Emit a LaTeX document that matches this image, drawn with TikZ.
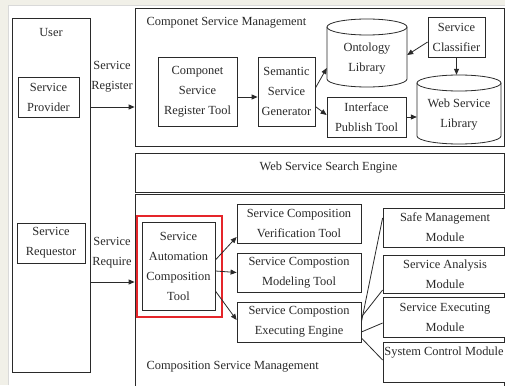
\documentclass[tikz,border=0pt]{standalone}
\usepackage{fontspec}
\setmainfont{Liberation Serif}
\usetikzlibrary{arrows.meta}
\definecolor{bgedge}{HTML}{F1F0E8}
\definecolor{lncol}{HTML}{2A2A2A}
\definecolor{redbox}{HTML}{E5252A}
\begin{document}
\begin{tikzpicture}[x=1pt,y=-1pt,
  every node/.style={font=\fontsize{12.4}{20}\selectfont, text=lncol},
  box/.style={draw=lncol, line width=0.8pt, fill=white, align=center, inner sep=0pt},
  arr/.style={draw=lncol, line width=0.8pt, -{Triangle[length=6pt,width=5pt]}},
  plainline/.style={draw=lncol, line width=0.8pt},
  cyl/.style={draw=lncol, line width=0.8pt, fill=white}
]
\useasboundingbox (0,0) rectangle (505,385);
\fill[bgedge] (0,0) rectangle (505,385);
\fill[white] (8,5) rectangle (505,385);
\draw[black!15, line width=0.6pt] (8,385) -- (8,5) -- (505,5);

% big frames
\node[box, minimum width=78pt, minimum height=354pt] (user) at (51,195) {};
\node (userlbl) at (51,33) {User};
\node[box, minimum width=61pt, minimum height=40pt] (sp) at (48.5,97) {Service\\Provider};
\node[box, minimum width=68pt, minimum height=40pt] (sr) at (51,243) {Service\\Requestor};

\node[box, minimum width=369pt, minimum height=138pt] (csm) at (319.5,77) {};
\node[anchor=west] (csmlbl) at (143,23) {Componet Service Management};
\node[box, minimum width=369pt, minimum height=39pt] (wsse) at (319.5,172.5) {};
\node[anchor=west] (wsselbl) at (256,168) {Web Service Search Engine};
\node[box, minimum width=369pt, minimum height=206pt] (cmp) at (319.5,297) {};
\node[anchor=west] (cmplbl) at (143,367) {Composition Service Management};

% user arrows
\node[align=center, inner sep=0pt] (reglbl) at (112,77) {Service\\Register};
\node[align=center, inner sep=0pt] (reqlbl) at (112,253) {Service\\Require};
\coordinate (regy) at (0,107);
\coordinate (reqy) at (0,282);
\draw[arr] (user.east |- regy) -- (csm.west |- regy);
\draw[arr] (user.east |- reqy) -- (cmp.west |- reqy);

% component service management contents
\node[box, minimum width=79pt, minimum height=69pt] (csrt) at (197.5,91.5) {Componet\\Service\\Register Tool};
\node[box, minimum width=57pt, minimum height=69pt] (ssg) at (286.5,91.5) {Semantic\\Service\\Generator};
\node[box, minimum width=79pt, minimum height=40pt] (ipt) at (366.5,117) {Interface\\Publish Tool};
\node[box, minimum width=57pt, minimum height=40pt] (sc) at (456.5,37) {Service\\Classifier};

% Ontology library cylinder
\draw[cyl] (327,27) -- (327,79) arc[start angle=180, end angle=360, x radius=40pt, y radius=8pt] -- (407,27);
\draw[cyl] (367,27) ellipse[x radius=40pt, y radius=8pt];
\node[minimum width=80pt, minimum height=68pt, inner sep=0pt] (onto) at (367,53) {};
\node[align=center] (ontolbl) at (367,58.5) {Ontology\\Library};

% Web service library cylinder
\draw[cyl] (417,83) -- (417,136) arc[start angle=180, end angle=360, x radius=42pt, y radius=8pt] -- (501,83);
\draw[cyl] (459,83) ellipse[x radius=42pt, y radius=8pt];
\node[minimum width=84pt, minimum height=69pt, inner sep=0pt] (wsl) at (459,109.5) {};
\node[align=center] (wsllbl) at (459,115) {Web Service\\Library};

\draw[arr] ([yshift=-5.5pt]csrt.east) -- ([yshift=-5.5pt]ssg.west);
\draw[arr] ([yshift=3.5pt]ssg.east) -- ([yshift=-15pt]onto.west);
\draw[arr] ([yshift=-15pt]ssg.east) -- ([yshift=2pt]ipt.west);
\draw[arr] ([yshift=-7.5pt]wsl.west -| ipt.east) -- ([yshift=-7.5pt]wsl.west);
\draw[arr] ([yshift=-5pt]sc.west) -- ([yshift=-2pt]onto.east);
\draw[arr] (sc.south) -- (sc.south |- wsl.north);

% composition service management contents
\node[draw=redbox, line width=1.3pt, minimum width=85pt, minimum height=101pt, inner sep=0pt] (red) at (179.5,266.5) {};
\node[box, minimum width=73pt, minimum height=88pt] (sact) at (178.5,266) {Service\\Automation\\Composition\\Tool};
\node[box, minimum width=124pt, minimum height=39pt] (scvt) at (299,223.5) {Service Composition\\Verification Tool};
\node[box, minimum width=124pt, minimum height=39pt] (scmt) at (299,272.5) {Service Compostion\\Modeling Tool};
\node[box, minimum width=124pt, minimum height=40pt] (scee) at (299,322) {Service Compostion\\Executing Engine};

\draw[arr] ([yshift=6pt]sact.east) -- ([yshift=-13.5pt]scvt.west);
\draw[arr] ([yshift=-5pt]sact.east) -- (scmt.west);
\draw[arr] ([yshift=-25pt]sact.east) -- ([yshift=2pt]scee.west);

\node[box, minimum width=124pt, minimum height=39pt] (smm) at (445,227.5) {Safe Management\\Module};
\node[box, minimum width=124pt, minimum height=38pt] (sam) at (445,274) {Service Analysis\\Module};
\node[box, minimum width=124pt, minimum height=40pt] (sem) at (445,317) {Service Executing\\Module};
\node[box, minimum width=124pt, minimum height=40pt] (scm) at (445,362) {};
\node[anchor=north] (scmlbl) at (444,343) {System Control Module};

\draw[plainline] (scee.east) -- ([yshift=9.5pt]smm.west);
\draw[plainline] ([yshift=5pt]scee.east) -- ([yshift=-16pt]sam.west);
\draw[plainline] ([yshift=-10pt]scee.east) -- ([yshift=-6pt]sem.west);
\draw[plainline] ([yshift=-16pt]scee.east) -- ([yshift=2pt]scm.west);
\end{tikzpicture}
\end{document}
